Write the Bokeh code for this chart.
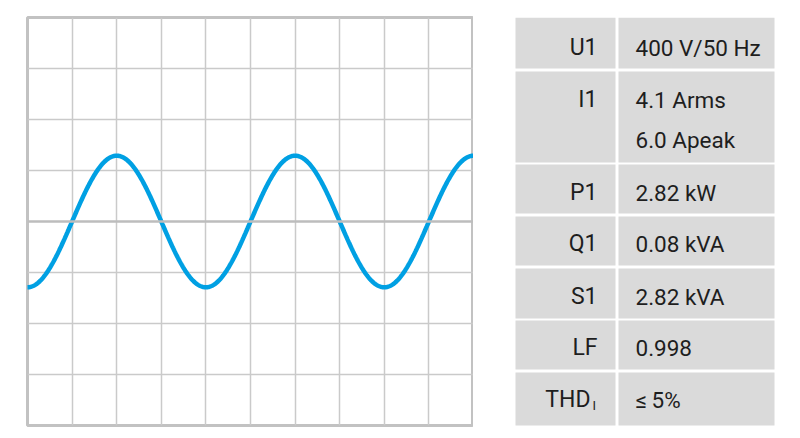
import numpy as np
from bokeh.plotting import figure
from bokeh.layouts import row
from bokeh.models import Range1d, FixedTicker, Span
from bokeh.core.properties import value
from bokeh.embed import file_html
from bokeh.resources import INLINE

# ---- data ----
# waveform read from the scope screen (units: grid divisions)
wave_amplitude_div = 1.29     # peak height in divisions
wave_period_div = 4.0         # one period spans 4 divisions

labels = ["U1", "I1", "P1", "Q1", "S1", "LF", "THD"]
values_line1 = ["400 V/50 Hz", "4.1 Arms", "2.82 kW", "0.08 kVA", "2.82 kVA", "0.998", "\u2264\u20095%"]
values_line2 = ["", "6.0 Apeak", "", "", "", "", ""]

FONT = value("Roboto")
TEXT_COLOR = "#1e1e1e"
CELL_COLOR = "#dadada"
GRID_COLOR = "#cacaca"
WAVE_COLOR = "#00a0e3"

# ---- scope ----
scope = figure(width=473, height=438, x_range=Range1d(0, 10), y_range=Range1d(-4, 4),
               x_axis_location=None, y_axis_location=None, toolbar_location=None,
               output_backend="svg", min_border_left=27, min_border_right=0,
               min_border_top=17, min_border_bottom=13,
               outline_line_color="#c2c2c2", outline_line_width=3,
               background_fill_color="white", border_fill_color="white")
scope.xgrid.ticker = FixedTicker(ticks=list(range(1, 10)))
scope.ygrid.ticker = FixedTicker(ticks=[-3, -2, -1, 1, 2, 3])
scope.grid.grid_line_color = GRID_COLOR
scope.grid.grid_line_width = 1.5
scope.add_layout(Span(location=0, dimension="width", line_color="#bdbdbd", line_width=2.5))

t = np.linspace(0, 10, 801)
y = -wave_amplitude_div * np.cos(2 * np.pi * t / wave_period_div)
scope.line(t, y, line_color=WAVE_COLOR, line_width=4.5, line_cap="round")

# ---- table ---- (coordinates: page pixels; frame borders equal to the scope's)
tbl = figure(width=327, height=438, x_range=Range1d(473, 800), y_range=Range1d(425, 17),
             x_axis_location=None, y_axis_location=None, toolbar_location=None,
             output_backend="svg", min_border_left=0, min_border_right=0,
             min_border_top=17, min_border_bottom=13, outline_line_color=None,
             background_fill_color="white", border_fill_color="white")
tbl.grid.visible = False

row_top = [17, 71, 164, 216, 268, 320, 372]
row_bottom = [68, 162, 213, 265, 318, 369, 427]
base1 = [47, 99, 192, 243, 296, 347, 399]
base2 = [None, 139, None, None, None, None, None]

n = len(labels)
tbl.quad(left=[515] * n, right=[615] * n, top=row_top, bottom=row_bottom,
         fill_color=CELL_COLOR, line_color=None)
tbl.quad(left=[618] * n, right=[774] * n, top=row_top, bottom=row_bottom,
         fill_color=CELL_COLOR, line_color=None)

lab_x = [597 if l != "THD" else 590 for l in labels]
tbl.text(x=lab_x, y=base1, text=labels, text_font=FONT, text_font_size="23px",
         text_color=TEXT_COLOR, text_align="right", text_baseline="alphabetic")
# subscript of THD_I
tbl.text(x=[592], y=[base1[labels.index("THD")] + 6], text=["I"], text_font=FONT,
         text_font_size="13px", text_color=TEXT_COLOR, text_align="left",
         text_baseline="alphabetic")

tbl.text(x=[635] * n, y=base1, text=values_line1, text_font=FONT, text_font_size="22.5px",
         text_color=TEXT_COLOR, text_align="left", text_baseline="alphabetic")
l2 = [(b, v) for b, v in zip(base2, values_line2) if v]
tbl.text(x=[635] * len(l2), y=[b for b, _ in l2], text=[v for _, v in l2], text_font=FONT,
         text_font_size="22.5px", text_color=TEXT_COLOR, text_align="left",
         text_baseline="alphabetic")

layout = row(scope, tbl)
open("out.html", "w").write(file_html(layout, INLINE))
